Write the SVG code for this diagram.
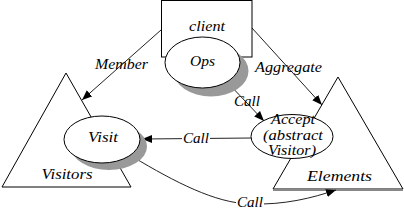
<svg xmlns="http://www.w3.org/2000/svg" width="404" height="215" viewBox="0 0 404 215">
<defs>
<style>
.shape{fill:#fff;stroke:#000;stroke-width:1}
.shadow{fill:#999;stroke:none}
.conn{fill:none;stroke:#222;stroke-width:1}
</style>
<marker id="arr" viewBox="0 0 10 10" refX="10" refY="5" markerWidth="10" markerHeight="10" markerUnits="userSpaceOnUse" orient="auto">
<path d="M0,1 L10,5 L0,9 Z" fill="#000"/>
</marker>
</defs>
<g font-family="Liberation Serif, serif" font-style="italic" font-size="15" text-anchor="middle" fill="#000">
<g id="visitors">
<polygon class="shape" points="66,73 131,187 2,187"/>
<text x="67" y="179" textLength="51" lengthAdjust="spacingAndGlyphs">Visitors</text>
</g>
<g id="elements">
<polygon class="shape" points="338,77 403,189 273,189"/>
<line x1="273" y1="190" x2="403" y2="190" stroke="#888" stroke-width="2"/>
<text x="339.5" y="181" textLength="65" lengthAdjust="spacingAndGlyphs">Elements</text>
</g>
<g id="connectors">
<line class="conn" x1="161" y1="30" x2="82" y2="100" marker-end="url(#arr)"/>
<line class="conn" x1="252" y1="28" x2="322" y2="105" marker-end="url(#arr)"/>
<line class="conn" x1="228" y1="83" x2="264" y2="121" marker-end="url(#arr)"/>
<line class="conn" x1="252" y1="138" x2="142" y2="139" marker-end="url(#arr)"/>
<path class="conn" d="M133,157 C175,182 215,203 250,204 C285,205 312,198 336,190" marker-end="url(#arr)"/>
</g>
<g id="client">
<rect class="shape" x="161.5" y="0.5" width="90.5" height="56.5"/>
<text x="207" y="31" textLength="36" lengthAdjust="spacingAndGlyphs">client</text>
</g>
<g id="ops">
<ellipse class="shadow" cx="211" cy="71" rx="37.5" ry="25.5"/>
<ellipse class="shape" cx="202.5" cy="62.5" rx="37.5" ry="25.5"/>
<text x="202.5" y="66" textLength="25" lengthAdjust="spacingAndGlyphs">Ops</text>
</g>
<g id="visit">
<ellipse class="shadow" cx="109" cy="146.5" rx="38" ry="23.5"/>
<ellipse class="shape" cx="102" cy="139.5" rx="38" ry="23.5"/>
<text x="103" y="142" textLength="30" lengthAdjust="spacingAndGlyphs">Visit</text>
</g>
<g id="accept">
<ellipse class="shape" cx="292" cy="136.5" rx="41" ry="22"/>
<text x="293" y="124" textLength="44" lengthAdjust="spacingAndGlyphs">Accept</text>
<text x="293" y="140" textLength="60" lengthAdjust="spacingAndGlyphs">(abstract</text>
<text x="292" y="155" textLength="48" lengthAdjust="spacingAndGlyphs">Visitor)</text>
</g>
<g id="labels">
<text x="121.5" y="69" textLength="53" lengthAdjust="spacingAndGlyphs">Member</text>
<text x="288.5" y="72" textLength="67" lengthAdjust="spacingAndGlyphs">Aggregate</text>
<text x="247" y="106" textLength="26" lengthAdjust="spacingAndGlyphs">Call</text>
<rect x="182" y="131" width="28" height="15" fill="#fff"/>
<text x="196" y="143" textLength="26" lengthAdjust="spacingAndGlyphs">Call</text>
<rect x="236" y="196" width="28" height="15" fill="#fff"/>
<text x="250" y="207" textLength="26" lengthAdjust="spacingAndGlyphs">Call</text>
</g>
</g>
</svg>
